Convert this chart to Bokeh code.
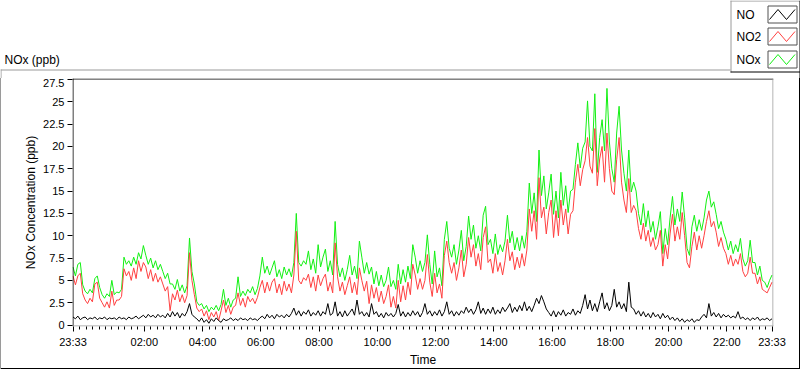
import pandas as pd
from bokeh.plotting import figure
from bokeh.layouts import column
from bokeh.models import (Range1d, FixedTicker, DatetimeTickFormatter, CustomJSTickFormatter,
                          ColumnDataSource)
from bokeh.core.properties import value
from bokeh.embed import file_html
from bokeh.resources import INLINE

# ---------------- data (5-minute samples from 23:33 to 23:33) ----------------
start_time = "2021-01-01 23:33"
sample_minutes = 5

nox = [
 6.5, 5.5, 6.8, 7.0, 4.5, 3.8, 3.5, 4.0, 3.6, 5.2,
 5.5, 4.2, 3.4, 3.0, 3.5, 3.2, 5.0, 3.4, 3.7, 3.6,
 4.0, 7.6, 6.8, 7.2, 6.6, 7.6, 6.8, 8.1, 7.4, 8.9,
 7.8, 6.8, 7.5, 6.4, 7.2, 6.2, 6.8, 6.0, 5.2, 5.8,
 4.6, 4.6, 4.0, 5.1, 3.8, 4.5, 3.6, 4.4, 9.75, 6.0,
 4.6, 2.6, 2.2, 2.4, 1.8, 2.2, 1.5, 2.0, 1.7, 2.2,
 1.6, 2.3, 4.0, 2.2, 3.0, 2.0, 2.8, 3.0, 5.4, 3.2,
 3.8, 3.3, 4.0, 3.6, 4.3, 3.4, 4.1, 5.5, 7.6, 5.8,
 6.6, 5.6, 6.4, 7.2, 5.4, 6.2, 5.2, 6.5, 5.6, 6.3,
 5.4, 7.0, 12.5, 7.0, 6.6, 7.2, 6.8, 8.3, 6.2, 7.4,
 5.8, 9.0, 6.5, 7.6, 8.5, 6.0, 7.2, 5.6, 11.6, 6.8,
 5.4, 6.4, 5.0, 6.2, 7.8, 5.6, 6.6, 5.2, 9.4, 7.6,
 5.8, 7.0, 5.7, 6.5, 4.6, 6.0, 4.4, 5.6, 4.3, 5.0,
 6.5, 4.3, 5.0, 4.0, 6.8, 4.6, 6.2, 4.8, 6.6, 5.2,
 9.0, 7.6, 5.8, 7.2, 6.0, 7.0, 10.1, 6.8, 4.6, 8.3,
 5.4, 6.4, 4.4, 9.6, 11.6, 8.6, 7.6, 9.0, 6.8, 8.4,
 10.6, 7.2, 8.8, 12.2, 9.6, 11.2, 8.6, 10.0, 8.3, 12.3,
 13.3, 9.0, 9.6, 8.0, 10.2, 7.9, 9.0, 8.2, 9.4, 12.3,
 9.2, 10.5, 8.4, 9.8, 8.3, 10.0, 8.6, 10.5, 15.9, 12.5,
 14.8, 11.6, 19.6, 14.5, 16.7, 13.0, 14.8, 16.9, 12.4, 15.0,
 12.0, 17.1, 13.4, 15.6, 12.6, 15.0, 15.2, 18.0, 20.4, 17.6,
 19.8, 20.5, 25.1, 20.0, 19.5, 25.9, 17.1, 21.0, 23.0, 19.5,
 26.5, 20.5, 17.5, 16.0, 21.5, 24.5, 19.6, 17.0, 15.0, 19.6,
 14.9, 16.0, 15.0, 12.5, 11.2, 13.6, 11.0, 12.8, 10.4, 11.6,
 9.6, 11.0, 12.7, 8.0, 10.8, 9.0, 12.0, 14.4, 11.2, 13.0,
 11.6, 14.9, 12.0, 8.6, 7.8, 11.0, 12.3, 10.5, 11.8, 10.6,
 12.0, 14.0, 15.0, 13.2, 13.8, 12.4, 10.8, 11.6, 10.4, 9.6,
 8.4, 9.4, 8.0, 9.0, 8.2, 9.7, 7.4, 6.6, 7.2, 9.5,
 7.0, 7.0, 5.6, 6.6, 5.0, 4.8, 4.2, 5.0, 5.6,
]

no2 = [
 5.5, 4.5, 5.5, 5.8, 3.5, 2.8, 2.4, 3.0, 2.6, 4.6,
 4.8, 3.0, 2.5, 2.0, 2.6, 1.9, 3.8, 2.2, 2.8, 2.8,
 3.2, 6.3, 5.5, 6.0, 5.0, 6.4, 5.2, 7.2, 6.0, 7.0,
 6.5, 5.2, 6.2, 4.9, 5.8, 4.8, 5.4, 4.6, 3.8, 4.3,
 1.6, 3.5, 2.8, 3.9, 2.6, 3.4, 2.5, 3.3, 8.1, 5.0,
 3.4, 1.9, 1.5, 1.8, 1.0, 1.6, 0.6, 1.4, 0.9, 1.5,
 0.5, 1.6, 2.8, 1.4, 2.2, 1.2, 2.0, 2.2, 3.6, 2.2,
 3.0, 2.0, 3.2, 2.6, 3.0, 2.4, 3.1, 4.2, 5.0, 3.6,
 4.8, 3.8, 4.8, 5.2, 3.6, 4.6, 3.4, 4.9, 3.8, 4.6,
 3.6, 5.6, 10.5, 5.0, 4.6, 5.3, 5.0, 5.7, 4.2, 5.4,
 3.8, 5.6, 4.4, 5.2, 5.7, 3.8, 4.8, 3.6, 9.2, 5.4,
 3.8, 4.8, 3.4, 4.4, 5.4, 3.6, 4.8, 3.4, 6.4, 5.0,
 3.8, 4.9, 2.4, 4.5, 3.0, 4.2, 2.6, 3.8, 2.4, 3.2,
 4.5, 2.0, 3.2, 1.9, 5.0, 2.6, 4.4, 2.8, 4.8, 3.4,
 6.8, 5.6, 4.0, 5.2, 4.0, 5.0, 7.9, 4.8, 3.2, 5.8,
 3.6, 4.6, 3.0, 7.8, 9.4, 7.0, 5.8, 7.0, 5.0, 6.4,
 8.4, 5.4, 6.8, 9.8, 7.6, 9.0, 6.6, 8.0, 6.2, 9.8,
 11.0, 7.0, 7.4, 5.8, 8.0, 6.0, 7.0, 5.6, 7.2, 9.6,
 7.2, 8.2, 6.2, 7.6, 6.4, 8.0, 6.6, 8.4, 13.0, 10.5,
 12.8, 9.6, 16.5, 12.0, 13.2, 10.2, 12.6, 14.0, 9.8, 12.8,
 10.0, 14.0, 11.2, 13.0, 10.2, 12.4, 12.8, 16.0, 18.0, 15.6,
 17.4, 18.4, 21.0, 17.8, 17.0, 22.0, 15.6, 18.6, 20.0, 16.0,
 21.5, 17.5, 15.0, 14.6, 18.5, 21.0, 16.0, 14.0, 12.6, 16.4,
 12.6, 13.4, 12.8, 10.8, 9.6, 11.4, 9.4, 10.6, 8.8, 9.8,
 8.4, 9.0, 10.6, 6.6, 9.0, 7.4, 10.2, 12.4, 9.4, 11.0,
 9.6, 12.6, 10.0, 7.0, 6.4, 8.8, 10.4, 8.4, 10.0, 8.6,
 10.0, 11.6, 12.8, 11.0, 11.6, 10.4, 8.8, 9.8, 8.6, 8.0,
 6.8, 7.8, 6.6, 7.4, 6.8, 8.0, 6.0, 5.4, 5.8, 7.6,
 5.8, 5.8, 4.6, 5.4, 4.0, 3.8, 3.6, 4.2, 4.8,
]

no = [
 0.9, 0.7, 1.0, 0.6, 0.8, 0.9, 0.6, 0.8, 0.7, 0.9,
 0.6, 0.8, 0.7, 0.9, 0.6, 0.8, 0.7, 0.8, 0.6, 0.9,
 0.7, 0.8, 0.6, 0.9, 0.7, 0.8, 1.0, 0.7, 0.9, 1.1,
 0.8, 1.2, 0.9, 1.1, 0.8, 1.2, 0.9, 1.1, 0.8, 1.3,
 0.9, 1.5, 1.0, 1.4, 0.8, 1.3, 1.0, 1.5, 2.4, 1.2,
 0.9, 0.7, 0.4, 0.8, 0.3, 0.6, 0.2, 0.7, 0.4, 0.8,
 0.5, 0.3, 0.7, 0.5, 0.6, 0.8, 0.5, 0.7, 0.5, 0.8,
 0.6, 0.7, 0.5, 0.8, 0.6, 0.7, 0.5, 0.8, 1.0, 0.7,
 1.2, 0.8, 1.1, 0.7, 1.2, 0.9, 1.1, 0.8, 1.2, 0.9,
 1.3, 1.9, 1.1, 1.6, 1.0, 1.5, 1.2, 1.7, 1.0, 1.4,
 1.1, 1.6, 1.0, 1.5, 1.2, 2.4, 1.1, 1.3, 2.6, 1.0,
 1.5, 0.9, 1.6, 1.0, 1.4, 1.8, 1.1, 2.8, 1.2, 1.5,
 1.0, 1.4, 0.9, 2.4, 1.2, 1.5, 0.9, 1.3, 0.8, 1.4,
 1.0, 1.3, 0.9, 1.3, 2.3, 1.0, 1.5, 0.9, 1.4, 1.0,
 1.6, 1.1, 1.5, 0.9, 1.4, 2.4, 1.2, 1.6, 1.0, 1.5,
 1.1, 1.7, 1.0, 1.5, 2.6, 1.2, 1.6, 1.0, 1.5, 1.1,
 1.6, 1.3, 2.0, 1.4, 1.8, 1.2, 1.7, 2.6, 1.3, 1.9,
 1.2, 1.8, 1.3, 2.0, 1.2, 1.7, 1.3, 2.0, 1.5, 1.9,
 2.4, 1.4, 2.0, 1.5, 2.2, 1.6, 2.6, 1.6, 2.1, 1.5,
 2.2, 3.0, 2.4, 3.3, 2.6, 1.8, 1.4, 1.0, 1.6, 0.9,
 1.5, 1.1, 1.7, 1.0, 1.4, 1.2, 1.8, 1.1, 1.6, 1.3,
 2.2, 3.4, 1.8, 2.8, 1.6, 2.4, 1.5, 2.6, 3.6, 1.8,
 2.5, 1.6, 2.2, 4.0, 2.0, 2.6, 1.8, 2.4, 1.5, 4.8,
 2.0, 1.8, 1.2, 1.6, 1.0, 1.5, 0.9, 1.3, 0.8, 1.4,
 0.9, 1.2, 0.7, 1.3, 0.8, 1.1, 0.6, 0.9, 0.5, 0.8,
 0.4, 0.7, 0.3, 0.6, 0.4, 0.7, 0.3, 0.6, 0.5, 0.9,
 1.2, 0.8, 2.4, 1.0, 1.4, 0.9, 1.3, 0.8, 1.2, 0.9,
 1.1, 0.8, 1.0, 0.8, 1.5, 0.7, 0.9, 0.6, 0.8, 0.5,
 0.8, 0.6, 0.9, 0.5, 0.7, 0.6, 0.8, 0.5, 0.7,
]

series_names = ["NO", "NO2", "NOx"]
series_colors = ["#000000", "#ff4040", "#12f012"]
y_ticks = [0, 2.5, 5, 7.5, 10, 12.5, 15, 17.5, 20, 22.5, 25, 27.5]
x_tick_labels = ["23:33", "02:00", "04:00", "06:00", "08:00", "10:00", "12:00",
                 "14:00", "16:00", "18:00", "20:00", "22:00", "23:33"]
chart_title = "NOx (ppb)"
y_title = "NOx Concentration (ppb)"
x_title = "Time"

assert len(nox) == len(no2) == len(no)

FONT = "Liberation Sans"
GRAY = "#9a9a9a"


def no_frame_align(fig):
    try:
        fig.frame_align = False
    except Exception:
        pass


# =============== top strip: title + legend box (pixel coordinates) ===============
top = figure(width=800, height=78, x_range=Range1d(0, 800), y_range=Range1d(78, 0),
             output_backend="svg", toolbar_location=None, title=None,
             x_axis_location=None, y_axis_location=None, min_border=0)
for g in list(top.renderers) + list(top.center):
    if g.__class__.__name__ == "Grid":
        g.visible = False
top.xgrid.visible = False
top.ygrid.visible = False
top.outline_line_color = None
top.background_fill_color = "white"
top.border_fill_color = "white"
no_frame_align(top)

# panel / legend frame lines
top.segment(x0=[0, 0.5, 730.5, 730], y0=[69.5, 69, 0, 0.5], x1=[730, 0.5, 730.5, 800],
            y1=[69.5, 78, 72, 0.5], line_color=GRAY, line_width=1)
top.segment(x0=[730, 799.5], y0=[71.5, 0], x1=[800, 799.5], y1=[71.5, 78],
            line_color="black", line_width=1)

# title text
top.text(x=[4], y=[59.5], text=[chart_title], text_font=value(FONT), text_font_size="12px",
         text_color="black", text_align="left", text_baseline="middle")

# legend entries: label on the left, zig-zag swatch on the right
rows = [(5, 22), (27, 44), (50, 67)]
top.text(x=[736] * 3, y=[(a + b) / 2 + 0.5 for a, b in rows], text=series_names,
         text_font=value(FONT), text_font_size="12px", text_color="black",
         text_align="left", text_baseline="middle")
top.quad(left=[767.5] * 3, right=[796.5] * 3, top=[a + 0.5 for a, b in rows],
         bottom=[b + 0.5 for a, b in rows], fill_color="white", line_color="#505050", line_width=1)
for color, (a, b) in zip(series_colors, rows):
    lo, hi = b - 3, a + 4
    top.line(x=[769, 777.5, 786, 794.5], y=[lo, hi, lo, hi], line_color=color, line_width=1)

# =============== main chart ===============
t0 = pd.Timestamp(start_time)
t1 = t0 + pd.Timedelta(hours=24)
times = pd.date_range(t0, periods=len(nox), freq=f"{sample_minutes}min")
src = ColumnDataSource(dict(t=times, nox=nox, no2=no2, no=no))

def ms(ts):
    return ts.value // 10**6

px_ms = (ms(t1) - ms(t0)) / 699.0        # data span covers 699 px of the 701 px frame
x_start, x_end = ms(t0) - 0.5 * px_ms, ms(t1) + 1.5 * px_ms
px_y = 27.5 / 250.5
y_start, y_end = -1.5 * px_y, 27.5 + 1.0 * px_y

p = figure(width=800, height=291, output_backend="svg", toolbar_location=None, title=None,
           x_axis_type="datetime", x_range=Range1d(x_start, x_end), y_range=Range1d(y_start, y_end),
           min_border_left=72, min_border_right=27, min_border_top=0, min_border_bottom=38)
p.grid.visible = False
p.outline_line_color = None
p.background_fill_color = "white"
p.border_fill_color = "white"
p.border_fill_alpha = 0
# outer panel edges (left gray, right and bottom black) drawn as the element background
p.styles = {
    "background-color": "white",
    "background-image": ("linear-gradient(#9a9a9a, #9a9a9a), linear-gradient(#000000, #000000), "
                         "linear-gradient(#000000, #000000)"),
    "background-size": "1px 100%, 1px 100%, 100% 1px",
    "background-position": "left top, right top, left bottom",
    "background-repeat": "no-repeat",
}
no_frame_align(p)

p.line("t", "nox", source=src, line_color=series_colors[2], line_width=1)
p.line("t", "no2", source=src, line_color=series_colors[1], line_width=1)
p.line("t", "no", source=src, line_color=series_colors[0], line_width=1)

# frame border lines (half a pixel inside each frame edge)
hx, hy = 0.5 * px_ms, 0.5 * px_y
p.segment(x0=[x_start, x_start + hx], y0=[y_end - hy, y_start], x1=[x_end, x_start + hx],
          y1=[y_end - hy, y_end], line_color="black", line_width=1)
p.segment(x0=[x_end - hx, x_start], y0=[y_start, y_start + hy], x1=[x_end - hx, x_end],
          y1=[y_end, y_start + hy], line_color=GRAY, line_width=1)

# ---- x axis ----
day2 = pd.Timestamp(t0.date() + pd.Timedelta(days=1))
major = [t0] + [day2 + pd.Timedelta(hours=h) for h in range(2, 24, 2)] + [t1]
anchor = day2 + pd.Timedelta(hours=2)
step = pd.Timedelta(seconds=800)
minor = []
for k in range(-12, 120):
    t = anchor + k * step
    if t0 + pd.Timedelta(minutes=3) < t < t1 - pd.Timedelta(minutes=3):
        minor.append(ms(t))
xa = p.xaxis[0]
xa.ticker = FixedTicker(ticks=[ms(t) for t in major], minor_ticks=minor)
fmt = "%H:%M"
xa.formatter = DatetimeTickFormatter(microseconds=fmt, milliseconds=fmt, seconds=fmt, minsec=fmt,
                                     minutes=fmt, hourmin=fmt, hours=fmt, days=fmt, months=fmt, years=fmt)
xa.axis_line_color = None
xa.major_tick_line_color = "black"
xa.major_tick_in = 0
xa.major_tick_out = 5
xa.minor_tick_line_color = "black"
xa.minor_tick_in = 0
xa.minor_tick_out = 3
xa.major_label_text_font = FONT
xa.major_label_text_font_size = "11px"
xa.major_label_text_color = "black"
xa.major_label_standoff = 4
xa.axis_label = x_title
xa.axis_label_text_font = FONT
xa.axis_label_text_font_size = "12px"
xa.axis_label_text_font_style = "normal"
xa.axis_label_text_color = "black"
xa.axis_label_standoff = 2

# ---- y axis ----
ya = p.yaxis[0]
ya.ticker = FixedTicker(ticks=y_ticks, minor_ticks=[])
ya.formatter = CustomJSTickFormatter(code="return String(tick);")
ya.axis_line_color = None
ya.major_tick_line_color = "black"
ya.major_tick_in = 0
ya.major_tick_out = 5
ya.minor_tick_line_color = None
ya.major_label_text_font = FONT
ya.major_label_text_font_size = "11px"
ya.major_label_text_color = "black"
ya.major_label_standoff = 3
ya.axis_label = y_title
ya.axis_label_text_font = FONT
ya.axis_label_text_font_size = "12px"
ya.axis_label_text_font_style = "normal"
ya.axis_label_text_color = "black"
ya.axis_label_standoff = 2

layout = column(top, p, spacing=0)
open("out.html", "w").write(file_html(layout, INLINE))
